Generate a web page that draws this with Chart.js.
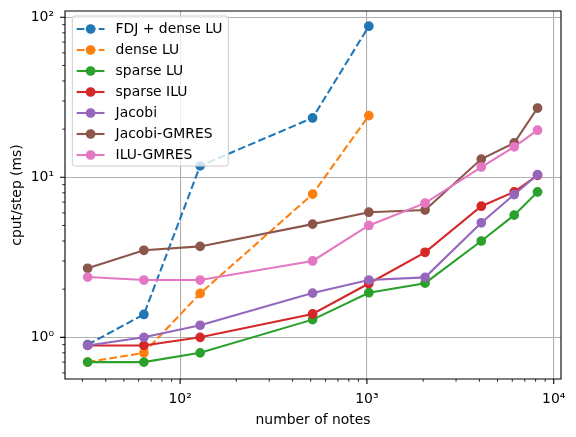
<!DOCTYPE html>
<html><head><meta charset="utf-8">
<script src="https://cdn.jsdelivr.net/npm/chart.js@4/dist/chart.umd.min.js"></script>
<style>html,body{margin:0;padding:0;background:#fff}</style>
</head><body>
<canvas id="c" width="576" height="437" style="display:block;width:576px;height:437px"></canvas>
<script>
// ---- data ----
const notes = [32, 64, 128, 512, 1024, 2048, 4096, 6144, 8192];
const fdjDenseLU = [0.9, 1.39, 11.8, 23.5, 88];
const denseLU = [0.70, 0.80, 1.88, 7.85, 24.3];
const sparseLU = [0.70, 0.70, 0.80, 1.29, 1.90, 2.18, 4.0, 5.8, 8.1];
const sparseILU = [0.89, 0.89, 1.0, 1.40, 2.17, 3.4, 6.6, 8.1, 10.3];
const jacobi = [0.89, 1.0, 1.19, 1.89, 2.28, 2.37, 5.2, 7.8, 10.4];
const jacobiGMRES = [2.7, 3.5, 3.7, 5.1, 6.05, 6.25, 13.0, 16.4, 27.1];
const iluGMRES = [2.38, 2.28, 2.28, 3.0, 5.0, 6.9, 11.6, 15.5, 19.7];
const seriesNames = ['FDJ + dense LU', 'dense LU', 'sparse LU', 'sparse ILU', 'Jacobi', 'Jacobi-GMRES', 'ILU-GMRES'];
const seriesValues = [fdjDenseLU, denseLU, sparseLU, sparseILU, jacobi, jacobiGMRES, iluGMRES];
const seriesDashed = [true, true, false, false, false, false, false];
const seriesColors = ['#1f77b4', '#ff7f0e', '#2ca02c', '#d62728', '#9467bd', '#8c564b', '#e377c2'];
const xTickLabels = {2: '10²', 3: '10³', 4: '10⁴'};
const yTickLabels = {0: '10⁰', 1: '10¹', 2: '10²'};
const xTitle = 'number of notes';
const yTitle = 'cput/step (ms)';

const FONT = "'DejaVu Sans', sans-serif";
const FS = 13.9;
const DASH = [7.7, 3.3];

function expOf(v) { const e = Math.log10(v); return Math.abs(e - Math.round(e)) < 1e-6 ? Math.round(e) : null; }
function isNice(v) { const m = v / Math.pow(10, Math.floor(Math.log10(v) + 1e-9)); return Math.abs(m - Math.round(m)) < 1e-6; }

const datasets = seriesValues.map((vals, i) => ({
  label: seriesNames[i],
  data: vals.map((v, j) => ({x: notes[j], y: v})),
  borderColor: seriesColors[i],
  backgroundColor: seriesColors[i],
  pointBackgroundColor: seriesColors[i],
  pointBorderColor: seriesColors[i],
  pointBorderWidth: 1.39,
  pointRadius: 4.17,
  borderWidth: 2.08,
  borderDash: seriesDashed[i] ? DASH : [],
  tension: 0,
  order: 20 - i
}));

const frame = {
  id: 'frame',
  afterDatasetsDraw(chart) {
    const {ctx, chartArea: a, scales: {x, y}} = chart;
    ctx.save();
    ctx.strokeStyle = '#000';
    ctx.lineWidth = 1.1;
    ctx.beginPath();
    ctx.moveTo(a.left, a.top); ctx.lineTo(a.right, a.top);
    ctx.lineTo(a.right, a.bottom); ctx.lineTo(a.left, a.bottom);
    ctx.closePath();
    ctx.stroke();
    for (const major of [true, false]) {
      ctx.beginPath();
      ctx.lineWidth = major ? 1.1 : 0.83;
      const len = major ? 4.9 : 2.8;
      for (const t of x.ticks) {
        if (!isNice(t.value) || (expOf(t.value) !== null) !== major) continue;
        const px = x.getPixelForValue(t.value);
        if (px < a.left - 0.5 || px > a.right + 0.5) continue;
        ctx.moveTo(px, a.bottom); ctx.lineTo(px, a.bottom + len);
      }
      for (const t of y.ticks) {
        if (!isNice(t.value) || (expOf(t.value) !== null) !== major) continue;
        const py = y.getPixelForValue(t.value);
        if (py < a.top - 0.5 || py > a.bottom + 0.5) continue;
        ctx.moveTo(a.left, py); ctx.lineTo(a.left - len, py);
      }
      ctx.stroke();
    }
    // legend
    const bx = a.left + 7.3, by = a.top + 5, bw = 156, bh = 150, r = 2.8;
    ctx.beginPath();
    ctx.moveTo(bx + r, by); ctx.lineTo(bx + bw - r, by); ctx.arcTo(bx + bw, by, bx + bw, by + r, r);
    ctx.lineTo(bx + bw, by + bh - r); ctx.arcTo(bx + bw, by + bh, bx + bw - r, by + bh, r);
    ctx.lineTo(bx + r, by + bh); ctx.arcTo(bx, by + bh, bx, by + bh - r, r);
    ctx.lineTo(bx, by + r); ctx.arcTo(bx, by, bx + r, by, r); ctx.closePath();
    ctx.fillStyle = 'rgba(255,255,255,0.8)';
    ctx.fill();
    ctx.lineWidth = 1;
    ctx.strokeStyle = '#cccccc';
    ctx.stroke();
    ctx.font = FS + 'px ' + FONT;
    ctx.textBaseline = 'middle';
    ctx.textAlign = 'left';
    chart.data.datasets.forEach((ds, i) => {
      const ey = by + 13 + i * 21;
      const x0 = bx + 4.4, x1 = x0 + 27.8;
      ctx.beginPath();
      ctx.setLineDash(ds.borderDash || []);
      ctx.strokeStyle = ds.borderColor;
      ctx.lineWidth = ds.borderWidth;
      ctx.moveTo(x0, ey); ctx.lineTo(x1, ey);
      ctx.stroke();
      ctx.setLineDash([]);
      ctx.beginPath();
      ctx.arc((x0 + x1) / 2, ey, ds.pointRadius, 0, Math.PI * 2);
      ctx.fillStyle = ds.pointBackgroundColor;
      ctx.fill();
      ctx.lineWidth = ds.pointBorderWidth;
      ctx.strokeStyle = ds.pointBorderColor;
      ctx.stroke();
      ctx.fillStyle = '#000';
      ctx.fillText(ds.label, x1 + 11.1, ey + 0.5);
    });
    ctx.restore();
  }
};

const gridColor = (ctx) => (ctx.tick && expOf(ctx.tick.value) !== null) ? '#b0b0b0' : 'rgba(0,0,0,0)';

new Chart(document.getElementById('c'), {
  type: 'line',
  data: {datasets},
  options: {
    responsive: false,
    animation: false,
    devicePixelRatio: 1,
    layout: {padding: {left: 0, right: 15, top: 11, bottom: 0}},
    plugins: {legend: {display: false}, tooltip: {enabled: false}},
    scales: {
      x: {
        type: 'logarithmic',
        min: 24.2, max: 10940,
        afterFit: (s) => { s.height = 58; s.paddingLeft = 0; s.paddingRight = 0; },
        grid: {color: gridColor, lineWidth: 1.1, drawTicks: false},
        border: {display: false},
        ticks: {
          autoSkip: false, maxRotation: 0, minRotation: 0, padding: 12,
          color: '#000', font: {family: FONT, size: FS},
          callback: (v) => { const e = expOf(v); return e !== null && xTickLabels[e] ? xTickLabels[e] : ''; }
        },
        title: {display: true, text: xTitle, color: '#000', font: {family: FONT, size: FS}, padding: {top: 4, bottom: 8.6}}
      },
      y: {
        type: 'logarithmic',
        min: 0.549, max: 109.5,
        afterFit: (s) => { s.width = 65; s.paddingTop = 0; s.paddingBottom = 0; },
        grid: {color: gridColor, lineWidth: 1.1, drawTicks: false},
        border: {display: false},
        ticks: {
          autoSkip: false, padding: 11,
          color: '#000', font: {family: FONT, size: FS},
          callback: (v) => { const e = expOf(v); return e !== null && yTickLabels[e] !== undefined ? yTickLabels[e] : ''; }
        },
        title: {display: true, text: yTitle, color: '#000', font: {family: FONT, size: FS}, padding: {top: 8.6, bottom: 4}}
      }
    }
  },
  plugins: [frame]
});
</script>
</body></html>
